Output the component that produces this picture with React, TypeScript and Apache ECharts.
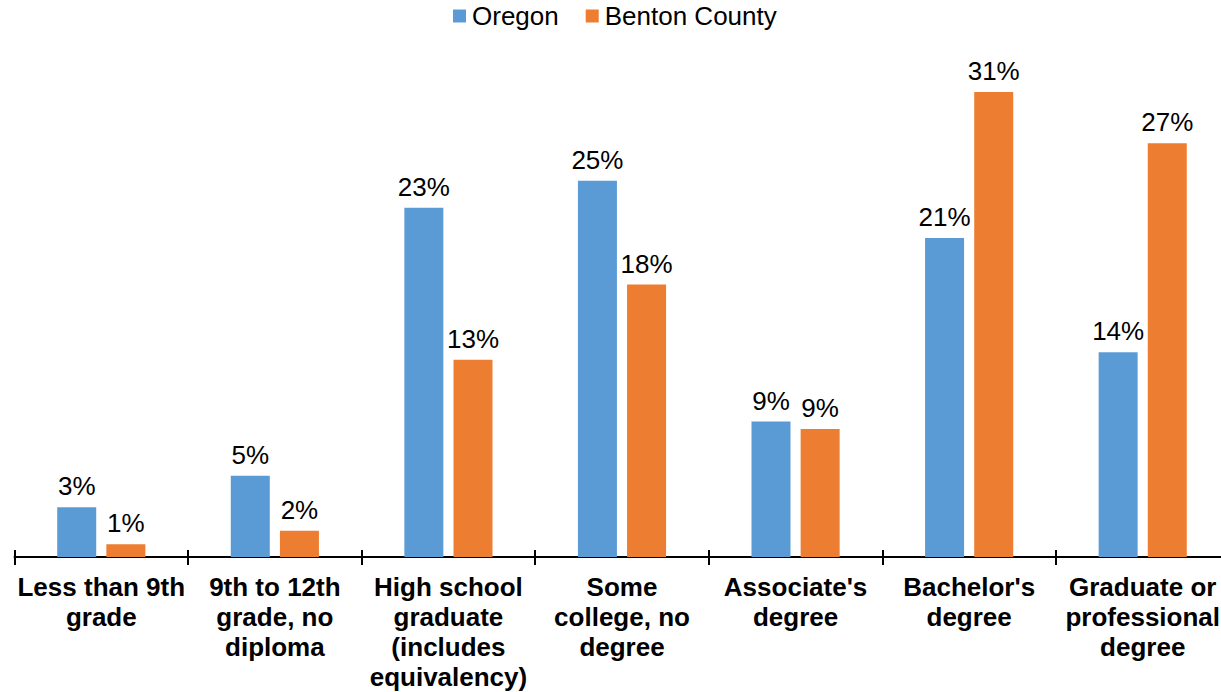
import React, { useEffect, useRef } from "react";
import * as echarts from "echarts";

const categories = [
  "Less than 9th\ngrade",
  "9th to 12th\ngrade, no\ndiploma",
  "High school\ngraduate\n(includes\nequivalency)",
  "Some\ncollege, no\ndegree",
  "Associate's\ndegree",
  "Bachelor's\ndegree",
  "Graduate or\nprofessional\ndegree",
];
const oregon = [3.3, 5.4, 23.2, 25.0, 9.0, 21.2, 13.6];
const benton = [0.85, 1.75, 13.1, 18.1, 8.5, 30.9, 27.49];

const FONT = "Liberation Sans, Arial, sans-serif";

export default function App() {
  const ref = useRef<HTMLDivElement>(null);
  useEffect(() => {
    if (!ref.current) return;
    const chart = echarts.init(ref.current, null, { renderer: "svg" });
    const label = {
      show: true,
      position: "top",
      distance: 8,
      color: "#000",
      fontSize: 26,
      fontFamily: FONT,
      formatter: (p: any) => Math.round(p.value) + "%",
    };
    chart.setOption({
      animation: false,
      backgroundColor: "#fff",
      legend: {
        left: 453,
        top: 3,
        padding: 0,
        itemWidth: 13,
        itemHeight: 13,
        itemGap: 27,
        icon: "rect",
        textStyle: {
          fontSize: 26,
          fontFamily: FONT,
          color: "#000",
          padding: [0, 0, 0, 1],
        },
        data: ["Oregon", "Benton County"],
      },
      grid: { left: 14.5, top: 30.25, width: 1215, height: 526.75 },
      xAxis: [
        {
          type: "category",
          data: categories,
          position: "bottom",
          axisLine: { show: true, lineStyle: { color: "#000", width: 2 } },
          axisTick: { show: true, length: 8, lineStyle: { color: "#000", width: 2 } },
          axisLabel: {
            interval: 0,
            margin: 15,
            fontSize: 26,
            fontWeight: "bold",
            fontFamily: FONT,
            color: "#000",
            lineHeight: 30,
            align: "center",
          },
        },
        {
          type: "category",
          data: categories,
          position: "bottom",
          axisLine: { show: false },
          axisTick: { show: true, inside: true, length: 7, lineStyle: { color: "#000", width: 2 } },
          axisLabel: { show: false },
          splitLine: { show: false },
        },
      ],
      yAxis: { type: "value", min: 0, max: 35, show: false },
      series: [
        {
          name: "Oregon",
          type: "bar",
          data: oregon,
          barWidth: 39,
          barGap: "26%",
          itemStyle: { color: "#5B9BD5" },
          label,
        },
        {
          name: "Benton County",
          type: "bar",
          data: benton,
          barWidth: 39,
          barGap: "26%",
          itemStyle: { color: "#ED7D31" },
          label,
        },
      ],
    });
    return () => chart.dispose();
  }, []);
  return (
    <div
      style={{
        position: "fixed",
        left: 0,
        top: 0,
        width: 1221,
        height: 692,
        overflow: "hidden",
        background: "#fff",
      }}
    >
      <div ref={ref} style={{ width: 1240, height: 692 }} />
    </div>
  );
}
